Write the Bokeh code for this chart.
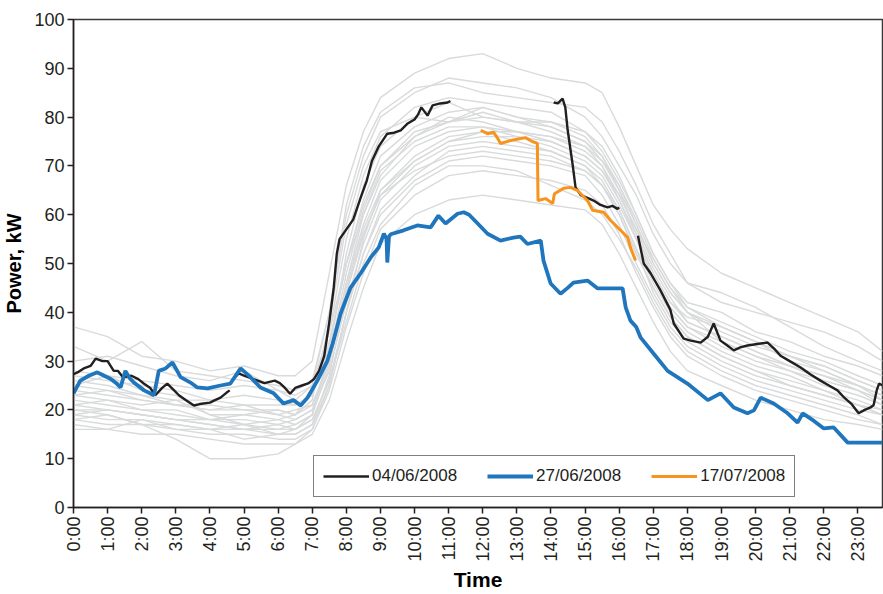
import math
from bokeh.plotting import figure
from bokeh.models import Range1d, FixedTicker, Legend, LegendItem
from bokeh.embed import file_html
from bokeh.resources import INLINE

NAN = float("nan")

# ---- data ----
hour_ticks = list(range(24))
hour_labels = [f"{h}:00" for h in hour_ticks]
y_ticks = list(range(0, 101, 10))

# background days (grey), sampled on a common time grid (hours)
grey_t = [0, 1, 2, 3, 4, 5, 6, 6.5, 7, 7.5, 8, 8.5, 9, 10, 11, 12, 13, 14, 15, 15.5,
          16, 16.5, 17, 17.5, 18, 19, 20, 21, 22, 23, 23.72]
grey_days = [
    [37, 35, 31, 30, 28, 29, 27, 27, 30, 48, 66, 77, 84, 89, 92, 93, 90, 88, 87, 85, 78, 70, 62, 57, 53, 48, 45, 42, 39, 36, 32],
    [33, 30, 34, 28, 27, 26, 25, 24, 26, 40, 60, 72, 80, 85, 88, 87, 86, 84, 80, 76, 70, 64, 56, 50, 46, 42, 40, 38, 36, 33, 30],
    [28, 27, 26, 25, 24, 25, 24, 23, 25, 36, 55, 68, 76, 82, 84, 83, 82, 81, 77, 74, 68, 60, 52, 46, 42, 40, 36, 34, 31, 29, 27],
    [26, 25, 23, 22, 22, 21, 21, 21, 23, 34, 50, 63, 72, 78, 81, 82, 80, 78, 75, 72, 66, 58, 50, 44, 40, 36, 33, 31, 29, 26, 24],
    [24, 23, 22, 21, 20, 20, 19, 20, 21, 30, 46, 58, 67, 74, 77, 78, 77, 76, 73, 70, 63, 55, 47, 41, 37, 33, 30, 28, 26, 24, 22],
    [22, 21, 20, 19, 18, 18, 17, 18, 20, 28, 42, 54, 63, 70, 74, 75, 74, 73, 70, 66, 60, 52, 45, 39, 35, 31, 28, 26, 24, 22, 20],
    [20, 20, 19, 18, 17, 16, 16, 16, 18, 26, 40, 52, 60, 67, 71, 72, 71, 70, 68, 64, 58, 50, 43, 37, 33, 29, 26, 24, 22, 20, 19],
    [18, 17, 17, 16, 15, 15, 14, 14, 16, 24, 37, 48, 57, 64, 68, 69, 68, 67, 65, 62, 56, 48, 41, 35, 31, 27, 24, 22, 20, 18, 17],
    [16, 16, 15, 15, 14, 13, 13, 13, 15, 22, 34, 45, 54, 60, 63, 64, 63, 62, 61, 58, 52, 45, 38, 32, 28, 25, 22, 20, 18, 17, 16],
    [20, 19, 17, 14, 10, 10, 11, 13, 16, 25, 40, 55, 65, 72, 76, 77, 75, 73, 70, 67, 61, 53, 44, 38, 34, 30, 27, 25, 23, 21, 19],
    [25, 27, 24, 23, 19, 19, 18, 17, 19, 32, 52, 66, 74, 80, 83, 80, 79, 77, 74, 70, 64, 57, 49, 43, 38, 35, 32, 29, 27, 25, 23],
    [23, 22, 21, 22, 19, 17, 18, 19, 22, 38, 58, 70, 77, 80, 79, 81, 79, 79, 76, 72, 65, 56, 48, 42, 39, 37, 34, 30, 28, 25, 22],
    [19, 18, 18, 17, 16, 17, 15, 15, 17, 27, 44, 56, 64, 69, 72, 73, 72, 71, 69, 66, 61, 53, 46, 40, 36, 32, 29, 27, 24, 21, 20],
    [21, 22, 20, 20, 18, 19, 20, 19, 24, 36, 50, 60, 68, 76, 80, 79, 77, 75, 72, 69, 64, 57, 51, 45, 40, 34, 31, 28, 25, 23, 21],
    [17, 16, 18, 16, 16, 14, 15, 16, 18, 26, 38, 50, 58, 66, 70, 70, 69, 66, 63, 60, 55, 49, 42, 36, 32, 28, 25, 23, 21, 19, 17],
    [30, 31, 29, 27, 26, 28, 24, 22, 25, 40, 62, 74, 81, 86, 87, 85, 84, 83, 82, 79, 73, 66, 58, 52, 46, 44, 41, 37, 33, 30, 28],
    [27, 26, 25, 24, 22, 23, 22, 21, 23, 33, 50, 62, 70, 76, 79, 80, 79, 78, 75, 71, 66, 59, 51, 45, 41, 38, 35, 32, 30, 27, 25],
    [23, 24, 22, 21, 20, 21, 19, 18, 20, 30, 45, 57, 65, 71, 75, 76, 76, 74, 71, 68, 62, 55, 47, 41, 37, 34, 31, 29, 26, 24, 22],
    [21, 20, 19, 18, 18, 17, 16, 17, 19, 29, 46, 60, 69, 75, 78, 78, 76, 75, 72, 69, 63, 56, 48, 42, 38, 35, 32, 29, 27, 24, 21],
    [19, 20, 19, 18, 17, 16, 17, 16, 19, 31, 48, 61, 70, 77, 79, 82, 80, 79, 77, 73, 67, 60, 52, 46, 41, 37, 34, 31, 28, 25, 23],
    [25, 24, 23, 21, 21, 20, 20, 19, 21, 30, 44, 56, 64, 71, 75, 77, 77, 76, 74, 71, 65, 58, 50, 44, 40, 37, 34, 31, 29, 26, 24],
    [18, 19, 17, 17, 16, 16, 15, 15, 17, 25, 40, 52, 61, 68, 73, 74, 73, 72, 69, 66, 60, 52, 45, 39, 35, 31, 28, 25, 23, 21, 19],
]

# 04/06/2008 (black) - gaps marked with NaN
d1_t = [0, 0.15, 0.3, 0.5, 0.65, 0.85, 1.0, 1.18, 1.3, 1.45, 1.7, 1.9, 2.06, 2.25, 2.4, 2.6, 2.75, 2.95, 3.09, 3.3, 3.53, 3.7, 4.0, 4.15, 4.31, 4.5, 4.58,
        NAN,
        4.7, 4.85, 5.0, 5.2, 5.4, 5.6, 5.9, 6.05, 6.2, 6.35, 6.5, 6.7, 6.9, 7.05, 7.2, 7.35, 7.5, 7.63, 7.72, 7.8, 7.98, 8.2, 8.42, 8.6, 8.75,
        8.95, 9.2, 9.4, 9.6, 9.8, 10.0, 10.1, 10.2, 10.38, 10.53, 10.75, 10.97, 11.05,
        NAN,
        14.08, 14.2, 14.34, 14.42, 14.49, 14.63, 14.72, 14.87, 15.05, 15.25, 15.45, 15.66, 15.8, 15.95, 16.0,
        NAN,
        16.55, 16.72, 16.92, 17.21, 17.5, 17.6, 17.89, 18.1, 18.39, 18.6, 18.77, 18.97, 19.15, 19.36, 19.55, 19.76, 20.05, 20.35, 20.55,
        20.73, 21.0, 21.32, 21.6, 21.9, 22.15, 22.4, 22.6, 22.8, 23.02, 23.2, 23.37, 23.46, 23.55, 23.62, 23.72]
d1_p = [27.3, 27.8, 28.5, 29.0, 30.5, 30.0, 30.0, 28.0, 28.0, 26.7, 27.0, 26.3, 25.4, 24.5, 23.0, 24.5, 25.4, 24.0, 23.0, 22.0, 20.9, 21.2, 21.5, 22.0, 22.5, 23.6, 24.0,
        NAN,
        26.5, 27.5, 27.0, 26.5, 26.0, 25.5, 26.0, 25.5, 24.5, 23.3, 24.5, 25.0, 25.5, 26.3, 28.0, 31.0, 38.0, 45.0, 52.0, 55.0, 56.8, 59.0, 63.5, 67.0, 71.0,
        74.0, 76.6, 76.8, 77.3, 78.7, 79.5, 80.5, 82.0, 80.3, 82.4, 82.8, 83.0, 83.3,
        NAN,
        83.0, 82.8, 83.8, 82.0, 77.3, 70.5, 65.6, 64.0, 63.5, 62.9, 62.0, 61.5, 61.8, 61.2, 61.5,
        NAN,
        55.7, 50.0, 48.0, 44.5, 40.5, 37.7, 34.6, 34.2, 33.8, 35.0, 37.7, 34.2, 33.3, 32.2, 32.8, 33.2, 33.5, 33.8, 32.5,
        31.1, 30.0, 28.7, 27.3, 26.0, 25.0, 24.0, 22.5, 21.3, 19.3, 20.0, 20.5, 21.0, 24.0, 25.4, 25.0]

# 27/06/2008 (blue)
d2_t = [0, 0.2, 0.45, 0.7, 0.9, 1.08, 1.25, 1.38, 1.52, 1.65, 1.77, 2.07, 2.36, 2.5, 2.7, 2.9, 3.0, 3.14, 3.43, 3.63, 3.93, 4.31, 4.6,
        4.9, 5.19, 5.48, 5.87, 6.16, 6.45, 6.66, 6.86, 7.15, 7.44, 7.6, 7.83, 8.12, 8.42, 8.71, 8.95, 9.1, 9.18, 9.2, 9.25, 9.3,
        9.68, 10.08, 10.47, 10.7, 10.91, 11.26, 11.44, 11.6, 11.85, 12.14, 12.52, 12.9, 13.1, 13.31, 13.7, 13.78, 13.99, 14.28,
        14.49, 14.66, 15.07, 15.37, 16.1, 16.19, 16.33, 16.5, 16.63, 17.0, 17.42, 18.0, 18.6, 18.97, 19.36, 19.76, 19.95, 20.15,
        20.53, 20.94, 21.23, 21.38, 21.7, 22.0, 22.29, 22.7, 23.72]
d2_p = [23.4, 26.0, 27.0, 27.7, 27.0, 26.4, 25.5, 24.6, 28.0, 26.5, 25.6, 24.0, 23.0, 28.0, 28.5, 29.7, 28.5, 26.7, 25.6, 24.6, 24.4, 25.0, 25.4,
        28.5, 26.7, 24.6, 23.4, 21.3, 22.0, 20.9, 22.5, 26.0, 30.0, 33.6, 39.7, 45.0, 48.0, 51.2, 53.3, 56.1, 55.0, 50.2, 55.5, 56.0,
        56.8, 57.8, 57.4, 59.8, 58.2, 60.2, 60.5, 60.0, 58.2, 56.1, 54.7, 55.3, 55.5, 54.0, 54.7, 50.6, 45.9, 43.8,
        45.0, 46.1, 46.5, 44.9, 44.9, 41.0, 38.3, 37.0, 34.8, 31.6, 28.0, 25.4, 22.0, 23.4, 20.5, 19.3, 19.9, 22.5,
        21.3, 19.3, 17.4, 19.3, 17.8, 16.2, 16.4, 13.3, 13.3]

# 17/07/2008 (orange)
d3_t = [11.94, 12.14, 12.32, 12.45, 12.52, 12.82, 13.11, 13.25, 13.45, 13.6, 13.62, 13.84, 14.05, 14.1, 14.37, 14.57, 14.77,
        15.07, 15.22, 15.54, 15.75, 16.04, 16.25, 16.33, 16.48]
d3_p = [77.3, 76.6, 76.9, 75.5, 74.6, 75.2, 75.6, 75.8, 75.0, 74.6, 62.9, 63.3, 62.3, 64.3, 65.4, 65.6, 65.0,
        62.9, 60.9, 60.5, 58.8, 56.8, 55.3, 53.3, 50.6]

labels = ["04/06/2008", "27/06/2008", "17/07/2008"]

# ---- plot ----
FONT = "Liberation Sans"
INK = "#231f20"

p = figure(width=883, height=594, output_backend="svg", toolbar_location=None,
           x_range=Range1d(0, 23.72), y_range=Range1d(0, 100),
           min_border_left=73, min_border_right=1, min_border_top=19, min_border_bottom=87)

p.background_fill_color = "white"
p.border_fill_color = "white"
p.outline_line_color = "#3a3a3a"
p.outline_line_width = 1.5
p.xgrid.visible = False
p.ygrid.visible = False

for row in grey_days:
    p.line(grey_t, row, line_color="#d9dadb", line_width=1.4)

r1 = p.line(d1_t, d1_p, line_color=INK, line_width=2.4)
r2 = p.line(d2_t, d2_p, line_color="#1f76bd", line_width=3.8)
r3 = p.line(d3_t, d3_p, line_color="#f7941d", line_width=3.0)

# axes
p.xaxis.ticker = FixedTicker(ticks=hour_ticks)
p.xaxis.major_label_overrides = {h: lab for h, lab in zip(hour_ticks, hour_labels)}
p.xaxis.major_label_orientation = math.pi / 2
p.yaxis.ticker = FixedTicker(ticks=y_ticks)

for ax in (p.xaxis[0], p.yaxis[0]):
    ax.axis_line_color = INK
    ax.axis_line_width = 1.5
    ax.major_tick_line_color = INK
    ax.major_tick_line_width = 1.5
    ax.major_tick_out = 6
    ax.major_tick_in = 0
    ax.minor_tick_out = 0
    ax.minor_tick_in = 0
    ax.major_label_text_font = FONT
    ax.major_label_text_color = INK
    ax.axis_label_text_font = FONT
    ax.axis_label_text_font_style = "bold"
    ax.axis_label_text_color = "black"

p.xaxis.major_label_text_font_size = "18px"
p.yaxis.major_label_text_font_size = "18px"
p.xaxis.axis_label = "Time"
p.yaxis.axis_label = "Power, kW"
p.xaxis.axis_label_text_font_size = "21px"
p.yaxis.axis_label_text_font_size = "20px"
p.xaxis.axis_label_standoff = 3
p.yaxis.axis_label_standoff = 6
p.xaxis.major_label_standoff = 3
p.yaxis.major_label_standoff = 3

legend = Legend(items=[LegendItem(label=labels[0], renderers=[r1]),
                       LegendItem(label=labels[1], renderers=[r2]),
                       LegendItem(label=labels[2], renderers=[r3])],
                location=(240, 10), orientation="horizontal")
legend.label_text_font = FONT
legend.label_text_font_size = "17px"
legend.label_text_color = INK
legend.border_line_color = "black"
legend.border_line_width = 1.5
legend.background_fill_alpha = 1.0
legend.glyph_width = 46
legend.glyph_height = 22
legend.label_standoff = 3
legend.spacing = 30
legend.padding = 9
legend.margin = 0
p.add_layout(legend, "center")

open("out.html", "w").write(file_html(p, INLINE))
